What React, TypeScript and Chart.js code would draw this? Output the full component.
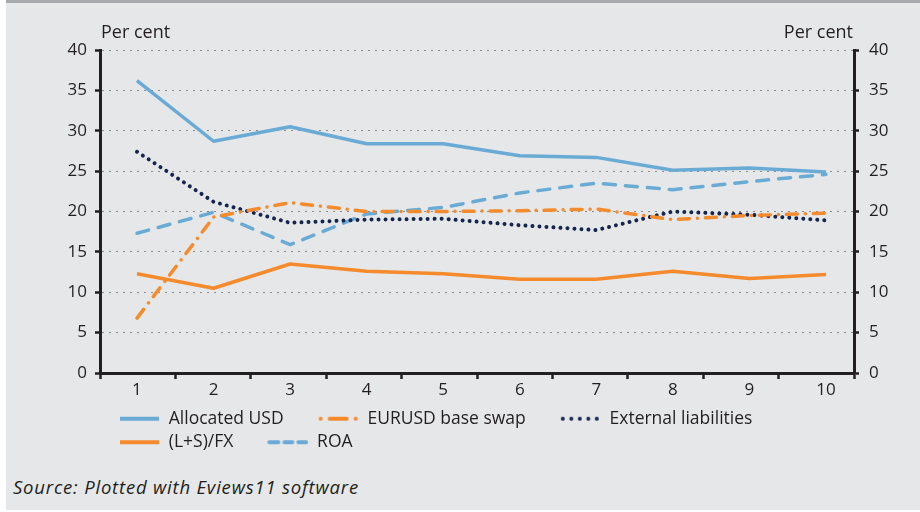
import React, { useEffect, useRef } from 'react';
import { Chart, registerables } from 'chart.js';

Chart.register(...registerables);

// ---- data ----
const categories = [1, 2, 3, 4, 5, 6, 7, 8, 9, 10];
const allocatedUSD = [36.2, 28.7, 30.5, 28.4, 28.4, 26.9, 26.7, 25.1, 25.4, 24.9];
const eurusdBaseSwap = [6.8, 19.3, 21.1, 20.0, 20.0, 20.1, 20.3, 19.0, 19.5, 19.8];
const externalLiabilities = [27.4, 21.2, 18.6, 19.0, 19.1, 18.3, 17.7, 20.0, 19.6, 18.9];
const lsOverFx = [12.3, 10.5, 13.5, 12.6, 12.3, 11.6, 11.6, 12.6, 11.7, 12.2];
const roa = [17.3, 19.9, 15.9, 19.7, 20.5, 22.3, 23.5, 22.7, 23.7, 24.6];
const yTickValues = [0, 5, 10, 15, 20, 25, 30, 35, 40];
const xTickMarks = [0, 1, 2, 3, 4, 5, 6, 7, 8, 9, 10];
const seriesNames = ['Allocated USD', 'EURUSD base swap', 'External liabilities', '(L+S)/FX', 'ROA'];
const axisUnit = 'Per cent';
const sourceNote = 'Source: Plotted with Eviews11 software';

// ---- style ----
const FONT = "'Open Sans', sans-serif";
const INK = '#231f20';
const BLUE = '#6aabd5';
const ORANGE = '#f58b2c';
const NAVY = '#15254d';

const toPoints = (vals: number[]) => categories.map((c, i) => ({ x: c, y: vals[i] }));

function makeSymbol(kind: string, color: string): HTMLCanvasElement {
  const c = document.createElement('canvas');
  c.width = 69;
  c.height = 10;
  const ctx = c.getContext('2d')!;
  ctx.strokeStyle = color;
  ctx.lineWidth = 4;
  const y = 5;
  const x0 = 29;
  const x1 = 68;
  const seg = (a: number, b: number, cap: CanvasLineCap) => {
    ctx.lineCap = cap;
    ctx.beginPath();
    ctx.moveTo(a, y);
    ctx.lineTo(b, y);
    ctx.stroke();
  };
  if (kind === 'solid') {
    seg(x0, x1, 'butt');
  } else if (kind === 'dashdot') {
    seg(x0 + 2, x0 + 2.01, 'round');
    seg(x0 + 11, x1 - 11, 'round');
    seg(x1 - 2, x1 - 1.99, 'round');
  } else if (kind === 'dotted') {
    for (let i = 0; i < 5; i++) {
      const px = x0 + 2 + i * 8.5;
      seg(px, px + 0.01, 'round');
    }
  } else if (kind === 'dashed') {
    seg(x0 + 1, x0 + 10, 'round');
    seg(x0 + 16, x0 + 24, 'round');
    seg(x0 + 30, x1 - 1, 'round');
  }
  return c;
}

const perCentPlugin = {
  id: 'perCent',
  afterDraw(chart: any) {
    const { ctx, chartArea } = chart;
    ctx.save();
    ctx.font = `18px ${FONT}`;
    ctx.fillStyle = INK;
    ctx.textBaseline = 'middle';
    ctx.textAlign = 'left';
    ctx.fillText(axisUnit, chartArea.left + 1, 33);
    ctx.textAlign = 'right';
    ctx.fillText(axisUnit, chartArea.right - 1, 33);
    ctx.restore();
  },
};

const legendShiftPlugin = {
  id: 'legendShift',
  beforeDraw(chart: any) {
    if (chart.legend) chart.legend.left = chart.chartArea.left - 15;
  },
};

export default function App() {
  const ref = useRef<HTMLCanvasElement>(null);

  useEffect(() => {
    document.body.style.margin = '0';
    const canvas = ref.current!;
    const symbols = [
      makeSymbol('solid', BLUE),
      makeSymbol('dashdot', ORANGE),
      makeSymbol('dotted', NAVY),
      makeSymbol('solid', ORANGE),
      makeSymbol('dashed', BLUE),
    ];
    const common = { xAxisID: 'x', yAxisID: 'y', pointRadius: 0, tension: 0, fill: false };
    const chart = new Chart(canvas, {
      type: 'line',
      data: {
        datasets: [
          {
            ...common,
            label: seriesNames[0],
            data: toPoints(allocatedUSD),
            borderColor: BLUE,
            borderWidth: 3.5,
            borderJoinStyle: 'round',
          },
          {
            ...common,
            label: seriesNames[1],
            data: toPoints(eurusdBaseSwap),
            borderColor: ORANGE,
            borderWidth: 3.5,
            borderDash: [11, 8, 0.01, 8],
            borderCapStyle: 'round',
          },
          {
            ...common,
            label: seriesNames[2],
            data: toPoints(externalLiabilities),
            borderColor: NAVY,
            borderWidth: 4,
            borderDash: [0.01, 7],
            borderCapStyle: 'round',
          },
          {
            ...common,
            label: seriesNames[3],
            data: toPoints(lsOverFx),
            borderColor: ORANGE,
            borderWidth: 3.5,
            borderJoinStyle: 'round',
          },
          {
            ...common,
            label: seriesNames[4],
            data: toPoints(roa),
            borderColor: BLUE,
            borderWidth: 3.5,
            borderDash: [12, 10],
            borderCapStyle: 'round',
          },
        ] as any,
      },
      options: {
        responsive: false,
        maintainAspectRatio: false,
        animation: false,
        devicePixelRatio: 1,
        layout: { padding: { top: 50, left: 0, right: 0, bottom: 0 } },
        elements: { point: { radius: 0, hoverRadius: 0 }, line: { tension: 0, fill: false } },
        plugins: {
          tooltip: { enabled: false },
          legend: {
            position: 'bottom',
            align: 'start',
            fullSize: false,
            labels: {
              usePointStyle: true,
              pointStyleWidth: 69,
              padding: 6,
              color: INK,
              font: { family: FONT, size: 17.5 },
              generateLabels: (ch: any) => {
                const items = Chart.defaults.plugins.legend.labels.generateLabels(ch);
                return items.map((it: any, i: number) => ({ ...it, pointStyle: symbols[i], fontColor: INK }));
              },
            },
          },
        },
        scales: {
          x: {
            type: 'linear',
            position: 'bottom',
            weight: 1,
            min: 0.517,
            max: 10.366,
            afterBuildTicks: (s: any) => {
              s.ticks = categories.map((v) => ({ value: v }));
            },
            afterFit: (s: any) => {
              s.height = 31;
            },
            grid: { display: true, drawOnChartArea: false, drawTicks: false },
            border: { display: true, color: INK, width: 3 },
            ticks: {
              padding: 7,
              color: INK,
              font: { family: FONT, size: 17 },
              autoSkip: false,
              maxRotation: 0,
              callback: (v: any) => String(v),
            },
          },
          x2: {
            type: 'linear',
            position: 'bottom',
            weight: 0,
            min: 0,
            max: 10,
            afterBuildTicks: (s: any) => {
              s.ticks = xTickMarks.map((v) => ({ value: v }));
            },
            afterFit: (s: any) => {
              s.height = 0;
            },
            grid: {
              drawOnChartArea: false,
              drawTicks: true,
              tickLength: 6,
              tickColor: INK,
              tickWidth: 2.5,
              tickBorderDash: [],
            },
            border: { display: false },
            ticks: { display: false },
          },
          y: {
            type: 'linear',
            position: 'left',
            min: 0,
            max: 40,
            afterBuildTicks: (s: any) => {
              s.ticks = yTickValues.map((v) => ({ value: v }));
            },
            afterFit: (s: any) => {
              s.width = 100;
            },
            grid: {
              color: '#8c8c8c',
              lineWidth: 1,
              drawTicks: true,
              tickLength: 5,
              tickColor: INK,
              tickWidth: 2.5,
              tickBorderDash: [],
            },
            border: { display: true, color: INK, width: 3, dash: [2, 5] },
            ticks: { padding: 8, color: INK, font: { family: FONT, size: 17 } },
          },
          y2: {
            type: 'linear',
            position: 'right',
            min: 0,
            max: 40,
            afterBuildTicks: (s: any) => {
              s.ticks = yTickValues.map((v) => ({ value: v }));
            },
            afterFit: (s: any) => {
              s.width = 66;
            },
            grid: {
              drawOnChartArea: false,
              drawTicks: true,
              tickLength: 5,
              tickColor: INK,
              tickWidth: 2.5,
              tickBorderDash: [],
            },
            border: { display: true, color: INK, width: 3 },
            ticks: { padding: 10, color: INK, font: { family: FONT, size: 17 } },
          },
        },
      } as any,
      plugins: [perCentPlugin, legendShiftPlugin],
    });
    return () => chart.destroy();
  }, []);

  return (
    <div style={{ position: 'relative', width: 920, height: 512, background: '#ffffff', overflow: 'hidden' }}>
      <div
        style={{
          position: 'absolute',
          left: 6,
          top: 0,
          width: 914,
          height: 510,
          background: '#e6e7e8',
          borderTop: '3px solid #a7a9ac',
          boxSizing: 'border-box',
        }}
      />
      <canvas
        ref={ref}
        width={920}
        height={461}
        style={{ position: 'absolute', left: 0, top: 0, width: 920, height: 461, display: 'block' }}
      />
      <div
        style={{
          position: 'absolute',
          left: 13,
          top: 475,
          fontFamily: FONT,
          fontStyle: 'italic',
          fontSize: 18.5,
          letterSpacing: '0.8px',
          lineHeight: '24px',
          color: INK,
          whiteSpace: 'nowrap',
        }}
      >
        {sourceNote}
      </div>
    </div>
  );
}
